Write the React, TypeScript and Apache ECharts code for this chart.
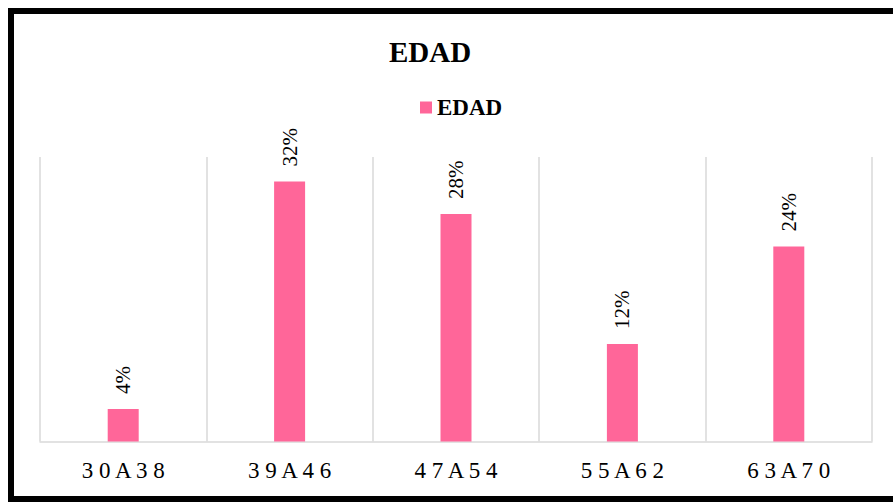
import React, { useEffect, useRef } from "react";
import * as echarts from "echarts";

const categories = ["3 0 A 3 8", "3 9 A 4 6", "4 7 A 5 4", "5 5 A 6 2", "6 3 A 7 0"];
const values = [4, 32, 28, 12, 24];
const seriesName = "EDAD";
const titleText = "EDAD";

const FONT = "'Liberation Serif', 'Times New Roman', serif";

export default function App() {
  const ref = useRef<HTMLDivElement>(null);
  useEffect(() => {
    if (!ref.current) return;
    const chart = echarts.init(ref.current, undefined, { renderer: "svg" });
    chart.setOption({
      animation: false,
      backgroundColor: "#fff",
      title: {
        text: titleText,
        left: 411,
        top: 18,
        textAlign: "center",
        textStyle: { fontFamily: FONT, fontSize: 29, fontWeight: "bold", color: "#000" },
      },
      legend: {
        left: 401,
        top: 77,
        icon: "rect",
        itemWidth: 12,
        itemHeight: 12,
        data: [seriesName],
        textStyle: { fontFamily: FONT, fontSize: 23, fontWeight: "bold", color: "#000" },
      },
      grid: { left: 26, right: 22, top: 143, bottom: 54.5 },
      xAxis: {
        type: "category",
        data: categories,
        boundaryGap: true,
        axisTick: { show: false },
        axisLine: { show: true, lineStyle: { color: "#d9d9d9", width: 1.5 } },
        splitLine: { show: true, lineStyle: { color: "#d9d9d9", width: 1.5 } },
        axisLabel: { fontFamily: FONT, fontSize: 23, color: "#000", margin: 17 },
      },
      yAxis: {
        type: "value",
        min: 0,
        max: 35,
        show: false,
        splitLine: { show: false },
      },
      series: [
        {
          name: seriesName,
          type: "bar",
          data: values,
          barWidth: 31,
          itemStyle: { color: "#ff6699" },
          label: {
            show: true,
            position: "top",
            rotate: 90,
            align: "left",
            verticalAlign: "middle",
            distance: 15,
            formatter: "{c}%",
            fontFamily: FONT,
            fontSize: 21,
            color: "#000",
          },
        },
      ],
    });
    return () => chart.dispose();
  }, []);
  return (
    <div
      style={{
        position: "fixed",
        left: 8,
        top: 8,
        width: 892,
        height: 494,
        border: "6px solid #000",
        boxSizing: "border-box",
        background: "#fff",
      }}
    >
      <div ref={ref} style={{ width: 880, height: 482 }} />
    </div>
  );
}
